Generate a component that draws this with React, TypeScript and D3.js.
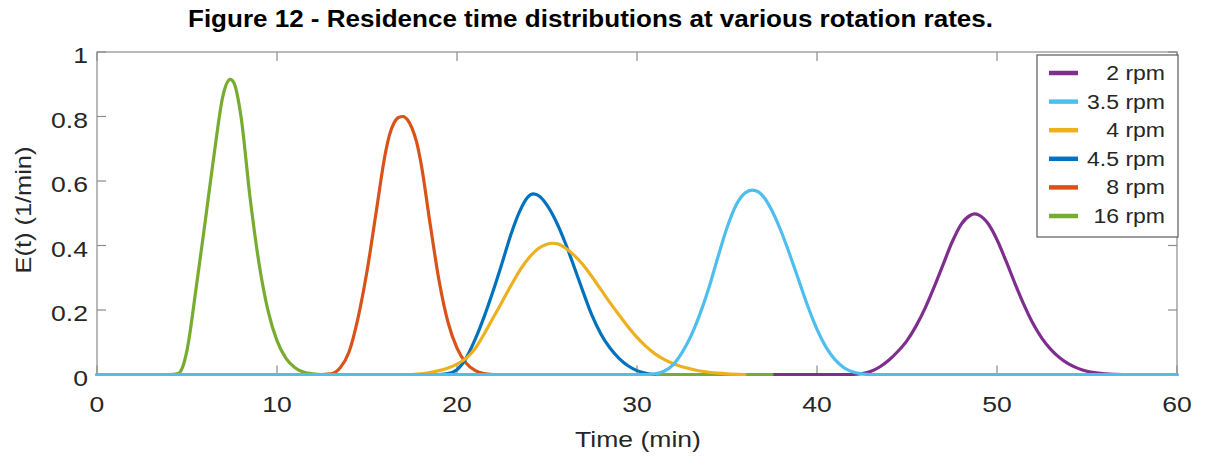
import React from "react";
import * as d3 from "d3";

// ---- data ----
const xTicks = [0, 10, 20, 30, 40, 50, 60];
const yTicks = [0, 0.2, 0.4, 0.6, 0.8, 1];
const yTickLabels = ["0", "0.2", "0.4", "0.6", "0.8", "1"];

const labels = ["2 rpm", "3.5 rpm", "4 rpm", "4.5 rpm", "8 rpm", "16 rpm"];
const colors = ["#7E2F8E", "#4DBEEE", "#EDB120", "#0072BD", "#D95319", "#77AC30"];

// 2 rpm
const t2 = [0, 42, 42.5, 43, 43.5, 44, 44.5, 45, 45.5, 46, 46.5, 47, 47.5, 48, 48.5, 48.75, 49, 49.5, 50, 50.5, 51, 51.5, 52, 52.5, 53, 53.5, 54, 54.5, 55, 55.5, 56, 57, 60];
const e2 = [0, 0, 0.003, 0.01, 0.024, 0.045, 0.072, 0.105, 0.15, 0.205, 0.27, 0.34, 0.41, 0.465, 0.493, 0.498, 0.494, 0.468, 0.418, 0.352, 0.282, 0.216, 0.158, 0.112, 0.077, 0.051, 0.032, 0.019, 0.01, 0.005, 0.002, 0, 0];
// 3.5 rpm
const t35 = [0, 30.5, 31, 31.5, 32, 32.5, 33, 33.5, 34, 34.5, 35, 35.5, 36, 36.4, 36.75, 37, 37.5, 38, 38.5, 39, 39.5, 40, 40.5, 41, 41.5, 42, 42.5, 43, 60];
const e35 = [0, 0, 0.002, 0.01, 0.03, 0.068, 0.12, 0.188, 0.27, 0.365, 0.455, 0.525, 0.563, 0.572, 0.566, 0.553, 0.508, 0.445, 0.37, 0.29, 0.21, 0.14, 0.085, 0.046, 0.021, 0.008, 0.002, 0, 0];
// 4 rpm
const t4 = [17.5, 18, 18.5, 19, 19.5, 20, 20.5, 21, 21.5, 22, 22.5, 23, 23.5, 24, 24.5, 25, 25.3, 25.6, 26, 26.5, 27, 27.5, 28, 28.5, 29, 29.5, 30, 30.5, 31, 31.5, 32, 32.5, 33, 33.5, 34, 34.5, 35, 36];
const e4 = [0, 0.002, 0.006, 0.012, 0.02, 0.032, 0.05, 0.08, 0.125, 0.175, 0.225, 0.276, 0.324, 0.362, 0.39, 0.404, 0.407, 0.405, 0.393, 0.37, 0.34, 0.303, 0.263, 0.223, 0.185, 0.148, 0.115, 0.087, 0.064, 0.047, 0.034, 0.024, 0.017, 0.011, 0.007, 0.004, 0.002, 0];
// 4.5 rpm
const t45 = [19, 19.5, 20, 20.5, 21, 21.5, 22, 22.5, 23, 23.5, 23.9, 24.25, 24.6, 25, 25.5, 26, 26.5, 27, 27.5, 28, 28.5, 29, 29.5, 30, 30.5, 31];
const e45 = [0, 0.003, 0.015, 0.05, 0.108, 0.178, 0.258, 0.345, 0.435, 0.508, 0.548, 0.56, 0.552, 0.525, 0.475, 0.41, 0.335, 0.257, 0.183, 0.125, 0.082, 0.05, 0.027, 0.012, 0.004, 0];
// 8 rpm
const t8 = [12.5, 13, 13.5, 14, 14.5, 15, 15.5, 16, 16.25, 16.5, 16.75, 17, 17.25, 17.5, 17.75, 18, 18.5, 19, 19.5, 20, 20.5, 21, 21.5, 22];
const e8 = [0, 0.002, 0.02, 0.07, 0.175, 0.32, 0.5, 0.68, 0.743, 0.78, 0.797, 0.8, 0.79, 0.764, 0.722, 0.655, 0.47, 0.292, 0.162, 0.082, 0.036, 0.013, 0.003, 0];
// 16 rpm
const t16 = [0, 4, 4.5, 4.75, 5, 5.5, 6, 6.5, 7, 7.4, 7.6, 8, 8.5, 9, 9.5, 10, 10.5, 11, 11.5, 12, 12.5, 37.5];
const e16 = [0, 0, 0.003, 0.022, 0.075, 0.265, 0.47, 0.68, 0.865, 0.915, 0.905, 0.8, 0.55, 0.345, 0.198, 0.105, 0.05, 0.021, 0.007, 0.002, 0, 0];

const seriesT = [t2, t35, t4, t45, t8, t16];
const seriesE = [e2, e35, e4, e45, e8, e16];
// drawing order (bottom -> top), by index
const drawOrder = [0, 5, 4, 3, 2, 1];

const W = 1205;
const H = 456;
const FONT = "'Liberation Sans', Arial, Helvetica, sans-serif";
const SX = 1.18;

export default function App() {
  const x = d3.scaleLinear().domain([0, 60]).range([97, 1177]);
  const y = d3.scaleLinear().domain([0, 1]).range([374.5, 52]);
  const line = d3
    .line<[number, number]>()
    .x((d) => x(d[0]))
    .y((d) => y(d[1]))
    .curve(d3.curveMonotoneX);

  const [x0, x1] = x.range();
  const [yb, yt] = y.range();
  const tickLen = 9;
  const axisColor = "#8c8c8c";
  const labelColor = "#262626";

  const legendX = 1037;
  const legendY = 55;
  const legendW = 141;
  const legendH = 182;
  const rowY = (i: number) => 73 + i * 28.6;

  return (
    <svg
      width={W}
      height={H}
      style={{ position: "absolute", left: 0, top: 0, background: "#fff" }}
      fontFamily={FONT}
    >
      <rect x={0} y={0} width={W} height={H} fill="#fff" />
      {/* title */}
      <text
        x={188}
        y={27}
        fontSize={24.7}
        fontWeight="bold"
        fill="#000"
        textLength={805}
        lengthAdjust="spacingAndGlyphs"
      >
        Figure 12 - Residence time distributions at various rotation rates.
      </text>

      {/* axes box */}
      <rect x={x0} y={yt} width={x1 - x0} height={yb - yt} fill="none" stroke={axisColor} strokeWidth={1.2} />
      {xTicks.map((t) => (
        <g key={"xt" + t}>
          <line x1={x(t)} x2={x(t)} y1={yb} y2={yb - tickLen} stroke={axisColor} strokeWidth={1.2} />
          <line x1={x(t)} x2={x(t)} y1={yt} y2={yt + tickLen} stroke={axisColor} strokeWidth={1.2} />
          <text
            transform={`translate(${x(t)},${yb + 37.5}) scale(${SX},1)`}
            textAnchor="middle"
            fontSize={22.5}
            fill={labelColor}
          >
            {t}
          </text>
        </g>
      ))}
      {yTicks.map((v, i) => (
        <g key={"yt" + v}>
          <line x1={x0} x2={x0 + tickLen} y1={y(v)} y2={y(v)} stroke={axisColor} strokeWidth={1.2} />
          <line x1={x1} x2={x1 - tickLen} y1={y(v)} y2={y(v)} stroke={axisColor} strokeWidth={1.2} />
          <text
            transform={`translate(88,${y(v) + 11}) scale(${SX},1)`}
            textAnchor="end"
            fontSize={22.5}
            fill={labelColor}
          >
            {yTickLabels[i]}
          </text>
        </g>
      ))}

      {/* axis labels */}
      <text
        transform={`translate(638,447) scale(${SX},1)`}
        textAnchor="middle"
        fontSize={22.5}
        fill={labelColor}
      >
        Time (min)
      </text>
      <text
        transform={`translate(31,210) rotate(-90) scale(${SX},1)`}
        textAnchor="middle"
        fontSize={21.5}
        fill={labelColor}
      >
        E(t) (1/min)
      </text>

      {/* series */}
      {drawOrder.map((si) => {
        const pts: [number, number][] = seriesT[si].map((t, k) => [t, seriesE[si][k]]);
        return (
          <path
            key={"s" + si}
            d={line(pts) || ""}
            fill="none"
            stroke={colors[si]}
            strokeWidth={3.2}
            strokeLinejoin="round"
            strokeLinecap="round"
          />
        );
      })}

      {/* legend */}
      <rect x={legendX} y={legendY} width={legendW} height={legendH} fill="#fff" stroke="#5a5a5a" strokeWidth={1.2} />
      {labels.map((lab, i) => (
        <g key={"lg" + i}>
          <line x1={1049} x2={1078} y1={rowY(i)} y2={rowY(i)} stroke={colors[i]} strokeWidth={4.5} />
          <text
            transform={`translate(1165,${rowY(i) + 7}) scale(${SX},1)`}
            textAnchor="end"
            fontSize={19.5}
            fill={labelColor}
          >
            {lab}
          </text>
        </g>
      ))}
    </svg>
  );
}
